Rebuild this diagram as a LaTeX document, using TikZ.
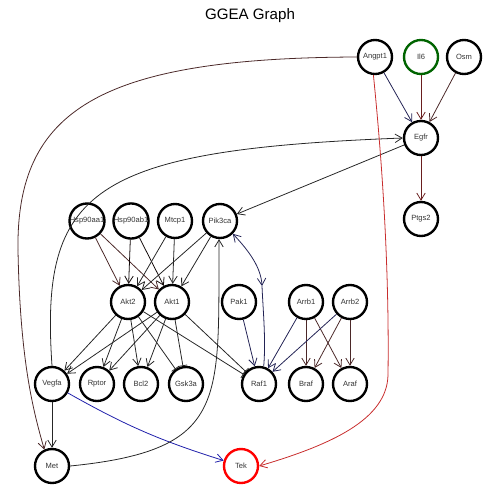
\documentclass[tikz,border=0pt]{standalone}
\usepackage{fontspec}
\setmainfont{Liberation Sans}
\usetikzlibrary{arrows.meta}
\definecolor{navyE}{RGB}{35,35,85}
\definecolor{brownE}{RGB}{75,40,40}
\definecolor{dredE}{RGB}{105,30,30}
\definecolor{redE}{RGB}{200,45,45}
\definecolor{blueE}{RGB}{30,30,170}
\definecolor{leafgreen}{RGB}{0,100,0}
\tikzset{barb/.tip={Straight Barb[length=4pt,width=4.8pt]}}
\begin{document}
\begin{tikzpicture}[x=0.02cm,y=-0.02cm,
  gene/.style={circle,draw=black,line width=1.35pt,minimum size=0.68cm,inner sep=0pt,
    font=\fontsize{4.3}{5}\selectfont,text=black!80},
  act/.style={-barb,line width=0.45pt,black!85},
  inh/.style={-{Bar[width=5pt]},line width=0.45pt,black!85},
]
\useasboundingbox (0,0) rectangle (500,500);
\node[font=\fontsize{8.6}{10}\selectfont] (title) at (250,16) {GGEA Graph};

% genes
\node[gene] (Angpt1) at (375,57) {Angpt1};
\node[gene,draw=leafgreen] (Il6) at (421,57) {Il6};
\node[gene] (Osm) at (464,57) {Osm};
\node[gene] (Egfr) at (421,138) {Egfr};
\node[gene] (Ptgs2) at (421,219) {Ptgs2};
\node[gene] (Hsp90aa1) at (87,221) {Hsp90aa1};
\node[gene] (Hsp90ab1) at (131,221) {Hsp90ab1};
\node[gene] (Mtcp1) at (175,221) {Mtcp1};
\node[gene] (Pik3ca) at (220,221) {Pik3ca};
\node[gene] (Akt2) at (128,302) {Akt2};
\node[gene] (Akt1) at (172,302) {Akt1};
\node[gene] (Pak1) at (239,302) {Pak1};
\node[gene] (Arrb1) at (306,302) {Arrb1};
\node[gene] (Arrb2) at (350,302) {Arrb2};
\node[gene] (Vegfa) at (52,384) {Vegfa};
\node[gene] (Rptor) at (97,384) {Rptor};
\node[gene] (Bcl2) at (141,384) {Bcl2};
\node[gene] (Gsk3a) at (186,384) {Gsk3a};
\node[gene] (Raf1) at (259,384) {Raf1};
\node[gene] (Braf) at (306,384) {Braf};
\node[gene] (Araf) at (350,384) {Araf};
\node[gene] (Met) at (52,466) {Met};
\node[gene,draw=red] (Tek) at (241,466) {Tek};

% waypoints of the long curves
\coordinate (angbend) at (18,250);
\coordinate (tekbend) at (388,375);
\coordinate (pkmid) at (262,286);

% receptor inputs
\draw[act,navyE] (Angpt1) -- (Egfr);
\draw[act,dredE] (Il6) -- (Egfr);
\draw[act,brownE] (Osm) -- (Egfr);
\draw[act,dredE] (Egfr) -- (Ptgs2);
\draw[act] (Egfr) -- (Pik3ca);
\draw[act] (Vegfa.north) .. controls (40,190) and (90,150) .. (Egfr.west);
\draw[brownE,line width=0.45pt] (Angpt1.west) .. controls (100,58) and (16,110) .. (angbend);
\draw[act,brownE] (angbend) .. controls (20,360) and (33,410) .. (Met.115);
\draw[redE,line width=0.45pt] (Angpt1.265) .. controls (386,200) and (389,300) .. (tekbend);
\draw[act,redE] (tekbend) .. controls (387,420) and (330,445) .. (Tek.east);
\draw[act,blueE] (Vegfa) to[bend right=6] (Tek);
\draw[act] (Vegfa) -- (Met);
\draw[act] (Met.east) .. controls (230,450) and (218,400) .. (Pik3ca.-93);

% upstream of Akt
\draw[act,brownE] (Hsp90aa1) -- (Akt2);
\draw[act,brownE] (Hsp90aa1) -- (Akt1);
\draw[act,black!75!brownE] (Hsp90ab1) -- (Akt2);
\draw[act,black!75!brownE] (Hsp90ab1) -- (Akt1);
\draw[act] (Mtcp1) -- (Akt2);
\draw[act] (Mtcp1) -- (Akt1);
\draw[act] (Pik3ca) -- (Akt2);
\draw[act] (Pik3ca) -- (Akt1);

% Akt targets
\foreach \a in {Akt2,Akt1}{
  \draw[act] (\a) -- (Vegfa);
  \draw[act] (\a) -- (Rptor);
  \draw[act] (\a) -- (Bcl2);
  \draw[inh] (\a) -- (Gsk3a);
  \draw[inh] (\a) -- (Raf1);
}

% Raf family
\draw[act,navyE] (Pak1) -- (Raf1);
\draw[act,navyE] (Arrb1) -- (Raf1);
\draw[act,brownE] (Arrb1) -- (Braf);
\draw[act,brownE] (Arrb1) -- (Araf);
\draw[act,navyE] (Arrb2) -- (Raf1);
\draw[act,brownE] (Arrb2) -- (Braf);
\draw[act,brownE] (Arrb2) -- (Araf);
\draw[navyE,line width=0.45pt,barb-barb] (Pik3ca.-45) .. controls (250,252) and (261,268) .. (pkmid);
\draw[navyE,line width=0.45pt] (pkmid) .. controls (263,310) and (266,340) .. (Raf1.75);
\end{tikzpicture}
\end{document}
